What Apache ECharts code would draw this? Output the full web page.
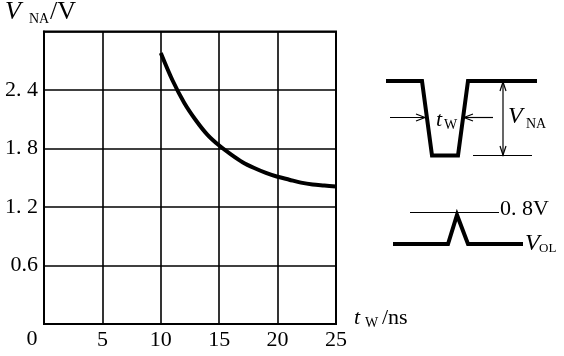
<!DOCTYPE html>
<html>
<head>
<meta charset="utf-8">
<script src="https://cdn.jsdelivr.net/npm/echarts@6/dist/echarts.min.js"></script>
<style>
html,body{margin:0;padding:0;background:#fff;}
#chart{width:564px;height:356px;}
</style>
</head>
<body>
<div id="chart"></div>
<script>
// Data
var tw = [10, 11, 12, 13, 14, 15, 16, 17, 18, 19, 20, 21, 22, 23, 24, 25];
var vna = [2.78, 2.50, 2.27, 2.09, 1.94, 1.83, 1.74, 1.66, 1.60, 1.55, 1.51, 1.48, 1.45, 1.43, 1.42, 1.41];
var yTickLabels = {'0.6': '0.6', '1.2': '1. 2', '1.8': '1. 8', '2.4': '2. 4'};
var xTickLabels = {'5': '5', '10': '10', '15': '15', '20': '20', '25': '25'};

var SERIF = '"Liberation Serif","DejaVu Serif",serif';
var pts = tw.map(function (t, i) { return [t, vna[i]]; });

function txt(x, y, s, size, italic, align, vAlign) {
  return {
    type: 'text', x: x, y: y, silent: true,
    style: {
      text: s, fill: '#000',
      font: (italic ? 'italic ' : '') + size + 'px ' + SERIF,
      textAlign: align || 'left', textVerticalAlign: vAlign || 'middle'
    }
  };
}
function pl(points, w) {
  return { type: 'polyline', silent: true, shape: { points: points },
    style: { stroke: '#000', lineWidth: w, fill: null, lineJoin: 'miter' } };
}

var chart = echarts.init(document.getElementById('chart'), null, { renderer: 'canvas' });
chart.setOption({
  animation: false,
  backgroundColor: '#fff',
  grid: { left: 44, right: 228, top: 31.5, bottom: 32, show: true, borderColor: '#000', borderWidth: 2 },
  xAxis: {
    type: 'value', min: 0, max: 25, interval: 5,
    axisLine: { show: true, lineStyle: { color: '#000', width: 2 } },
    axisTick: { show: false },
    splitLine: { show: true, lineStyle: { color: '#000', width: 1.6 } },
    axisLabel: {
      color: '#000', fontFamily: SERIF, fontSize: 22, margin: 5,
      formatter: function (v) { return xTickLabels[String(v)] || ''; }
    }
  },
  yAxis: {
    type: 'value', min: 0, max: 3, interval: 0.6,
    axisLine: { show: true, lineStyle: { color: '#000', width: 2 } },
    axisTick: { show: false },
    splitLine: { show: true, lineStyle: { color: '#000', width: 1.6 } },
    axisLabel: {
      color: '#000', fontFamily: SERIF, fontSize: 22, margin: 6,
      formatter: function (v) { return yTickLabels[String(Math.round(v * 10) / 10)] || ''; }
    }
  },
  series: [{
    type: 'line', data: pts, smooth: 0.3, symbol: 'none',
    lineStyle: { color: '#000', width: 4 }
  }],
  graphic: [
    // origin label
    txt(32, 339, '0', 22, false, 'center'),
    // axis titles
    txt(5, 12, 'V', 26, true),
    txt(29, 19, 'NA', 14, false),
    txt(50, 12, '/V', 26, false),
    txt(354, 318, 't', 22, true),
    txt(365, 323, 'W', 14, false),
    txt(382, 318, '/ns', 22, false),
    // pulse diagram 1
    pl([[386, 81], [422, 81], [432, 155.5], [458, 155.5], [468, 81], [537, 81]], 4),
    pl([[390, 117.5], [425, 117.5]], 1.2),
    pl([[416, 114], [425, 117.5], [416, 121]], 1.2),
    pl([[493, 117.5], [464, 117.5]], 1.2),
    pl([[473, 114], [464, 117.5], [473, 121]], 1.2),
    pl([[503, 82], [503, 155]], 1.2),
    pl([[500, 91], [503, 82], [506, 91]], 1.2),
    pl([[500, 146], [503, 155], [506, 146]], 1.2),
    pl([[473, 155.5], [532, 155.5]], 1.2),
    txt(436, 120, 't', 22, true),
    txt(444, 125, 'W', 14, false),
    txt(508, 117, 'V', 24, true),
    txt(526, 124, 'NA', 14, false),
    // pulse diagram 2
    pl([[410, 212.5], [499, 212.5]], 1.2),
    txt(500, 209, '0. 8V', 22, false),
    pl([[393, 244], [448, 244], [457, 215], [468, 244], [523, 244]], 4),
    txt(525, 244, 'V', 24, true),
    txt(539, 249, 'OL', 13, false)
  ]
});
</script>
</body>
</html>
